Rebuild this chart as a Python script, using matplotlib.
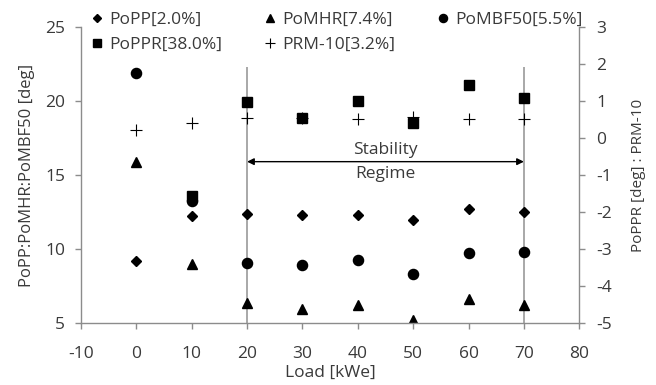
import matplotlib
matplotlib.use('Agg')
import matplotlib.pyplot as plt

plt.rcParams['font.family'] = ['Open Sans', 'DejaVu Sans']
plt.rcParams['axes.unicode_minus'] = False

# datos
load = [0, 10, 20, 30, 40, 50, 60, 70]
popp = [9.16, 12.2, 12.37, 12.27, 12.32, 11.96, 12.71, 12.48]
pomhr = [15.87, 8.98, 6.38, 5.93, 6.22, 5.18, 6.6, 6.2]
pombf50 = [21.9, 13.27, 9.05, 8.95, 9.27, 8.3, 9.72, 9.81]

load_ppr = [10, 20, 30, 40, 50, 60, 70]
poppr = [-1.57, 0.96, 0.55, 1.0, 0.4, 1.43, 1.07]
prm10 = [0.22, 0.4, 0.53, 0.53, 0.51, 0.58, 0.51, 0.51]

regime_start = 20
regime_end = 70
regime_top = 22.3
arrow_y = 15.9

x_ticks = [-10, 0, 10, 20, 30, 40, 50, 60, 70, 80]
left_ticks = [5, 10, 15, 20, 25]
right_ticks = [-5, -4, -3, -2, -1, 0, 1, 2, 3]

AXIS_GRAY = '#8c8c8c'
TEXT = '#3a3a3a'
FS = 12.5


def style_axis(ax):
    ax.spines['top'].set_visible(False)
    for side in ['left', 'right', 'bottom']:
        ax.spines[side].set_color(AXIS_GRAY)
        ax.spines[side].set_linewidth(1.0)
    ax.tick_params(colors=AXIS_GRAY, labelcolor=TEXT, labelsize=FS,
                   direction='out', length=4.5, width=1.0)


fig, ax = plt.subplots(figsize=(6.56, 3.85), dpi=100)
fig.subplots_adjust(left=0.1235, right=0.883, top=0.93, bottom=0.161)
ax2 = ax.twinx()

style_axis(ax)
style_axis(ax2)
ax.spines['right'].set_visible(False)
ax2.spines['left'].set_visible(False)
ax2.spines['bottom'].set_visible(False)
ax.tick_params(axis='x', pad=12)
ax.tick_params(axis='y', pad=7)
ax2.tick_params(axis='y', pad=8)

# lineas del regimen estable
ax.vlines([regime_start, regime_end], left_ticks[0], regime_top,
          color='#9a9a9a', linewidth=1.2, zorder=1)
ax.annotate('', xy=(regime_start, arrow_y), xytext=(regime_end, arrow_y),
            arrowprops=dict(arrowstyle='<|-|>', color='black', lw=1.0,
                            mutation_scale=10, shrinkA=0, shrinkB=0))
mid = (regime_start + regime_end) / 2
ax.text(mid, arrow_y + 0.25, 'Stability', ha='center', va='bottom',
        fontsize=FS, color=TEXT)
ax.text(mid, arrow_y - 0.3, 'Regime', ha='center', va='top',
        fontsize=FS, color=TEXT)

h_popp, = ax.plot(load, popp, 'D', color='black', markersize=4.8,
                  linestyle='none', label='PoPP[2.0%]')
h_pomhr, = ax.plot(load, pomhr, '^', color='black', markersize=6.5,
                   linestyle='none', label='PoMHR[7.4%]')
h_pombf, = ax.plot(load, pombf50, 'o', color='black', markersize=7.3,
                   linestyle='none', label='PoMBF50[5.5%]')
h_poppr, = ax2.plot(load_ppr, poppr, 's', color='black', markersize=7,
                    linestyle='none', label='PoPPR[38.0%]')
h_prm, = ax2.plot(load, prm10, '+', color='black', markersize=9,
                  markeredgewidth=0.8, linestyle='none', label='PRM-10[3.2%]')

ax.set_xlim(-10, 80)
ax.set_ylim(5, 25)
ax2.set_ylim(-5, 3)
ax.set_xticks(x_ticks)
ax.set_yticks(left_ticks)
ax2.set_yticks(right_ticks)

ax.set_xlabel('Load [kWe]', fontsize=FS, color=TEXT)
ax.xaxis.set_label_coords(0.5, -0.142)
ax.set_ylabel('PoPP:PoMHR:PoMBF50 [deg]', fontsize=FS - 0.5, color=TEXT)
ax.yaxis.set_label_coords(-0.092, 0.5)
ax2.set_ylabel('PoPPR [deg] : PRM-10', fontsize=11, color=TEXT)
ax2.yaxis.set_label_coords(1.104, 0.5)

handles = [h_popp, h_poppr, h_pomhr, h_prm, h_pombf]
fig.legend(handles=handles, labels=[h.get_label() for h in handles],
           ncol=3, loc='upper left', bbox_to_anchor=(0.115, 1.01),
           frameon=False, fontsize=FS, handlelength=0.7, handletextpad=0.35,
           columnspacing=2.4, labelspacing=0.5, labelcolor=TEXT,
           markerscale=0.8)

fig.savefig('out.png', dpi=100)
